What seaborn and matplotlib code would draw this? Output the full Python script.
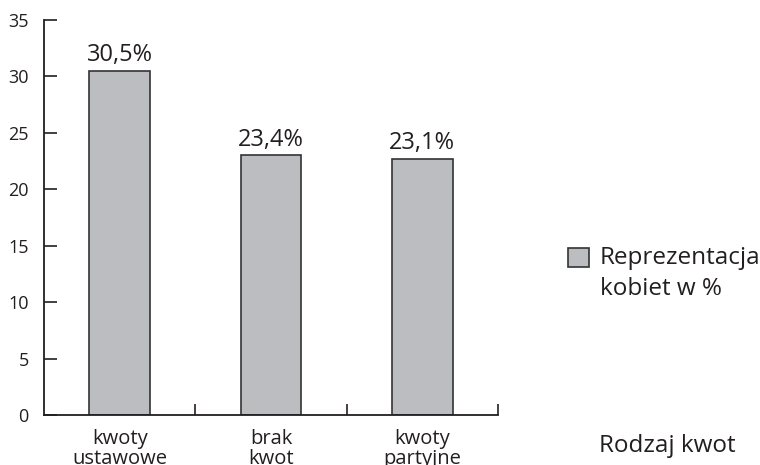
import matplotlib
matplotlib.use("Agg")
import matplotlib.pyplot as plt
from matplotlib.patches import Patch, Rectangle
from matplotlib.legend_handler import HandlerPatch
import seaborn as sns
import pandas as pd

categories = ["kwoty\nustawowe", "brak\nkwot", "kwoty\npartyjne"]
values = [30.5, 23.0, 22.7]
value_labels = ["30,5%", "23,4%", "23,1%"]
yticks = [0, 5, 10, 15, 20, 25, 30, 35]
legend_label = "Reprezentacja\nkobiet w %"
axis_title = "Rodzaj kwot"

sns.set_style("white")
plt.rcParams["font.family"] = ["Open Sans", "DejaVu Sans"]

df = pd.DataFrame({"cat": categories, "val": values})

fig = plt.figure(figsize=(7.6, 4.65), dpi=100)
ax = fig.add_axes([44/760, 1-415/465, (498-44)/760, (415-20)/465])

bar_color = "#bcbdc0"
edge = "#333333"
sns.barplot(data=df, x="cat", y="val", color=bar_color, edgecolor=edge,
            linewidth=1.2, width=0.4, saturation=1, ax=ax)

ax.set_xlim(-0.5, 2.5)
ax.set_ylim(0, 35)
ax.set_yticks(yticks)
ax.set_yticklabels([str(t) for t in yticks], fontsize=13, color="#231f20")
ax.tick_params(axis="y", direction="in", length=9, width=1.2, color="#231f20", pad=11, left=True)
ax.tick_params(axis="x", length=0, pad=10, labelsize=14.5, labelcolor="#231f20")
ax.set_xticks(range(len(categories)))
ax.set_xticklabels(categories, linespacing=1.0, va="top")
ax.set_xticks([0.5, 1.5, 2.5], minor=True)
ax.tick_params(axis="x", which="minor", direction="in", length=8, width=1.2, color="#231f20", bottom=True)

for s in ["top", "right"]:
    ax.spines[s].set_visible(False)
for s in ["left", "bottom"]:
    ax.spines[s].set_color("#231f20")
    ax.spines[s].set_linewidth(1.3)
ax.set_xlabel("")
ax.set_ylabel("")

for i, (v, lab) in enumerate(zip(values, value_labels)):
    ax.text(i, v + 0.3, lab, ha="center", va="bottom", fontsize=17, color="#231f20")


def first_line_square(legend, orig_handle, xdescent, ydescent, width, height, fontsize):
    shift = 12.0
    return Rectangle((-xdescent, -ydescent + shift), width, height)


handles = [Patch(facecolor=bar_color, edgecolor=edge, linewidth=1.2)]
leg = fig.legend(handles, [legend_label], loc="upper left", bbox_to_anchor=(563/760, 1-241/465),
                 frameon=False, handlelength=0.87, handleheight=0.87,
                 handletextpad=0.45, labelspacing=0.2, borderaxespad=0, borderpad=0.2,
                 prop={"size": 17.5},
                 handler_map={Patch: HandlerPatch(patch_func=first_line_square)})
for t in leg.get_texts():
    t.set_linespacing(1.4)
    t.set_color("#231f20")
fig.text(599/760, 1-446/465, axis_title, fontsize=17.5, color="#231f20", va="center", ha="left")

fig.savefig("out.png", dpi=100)
